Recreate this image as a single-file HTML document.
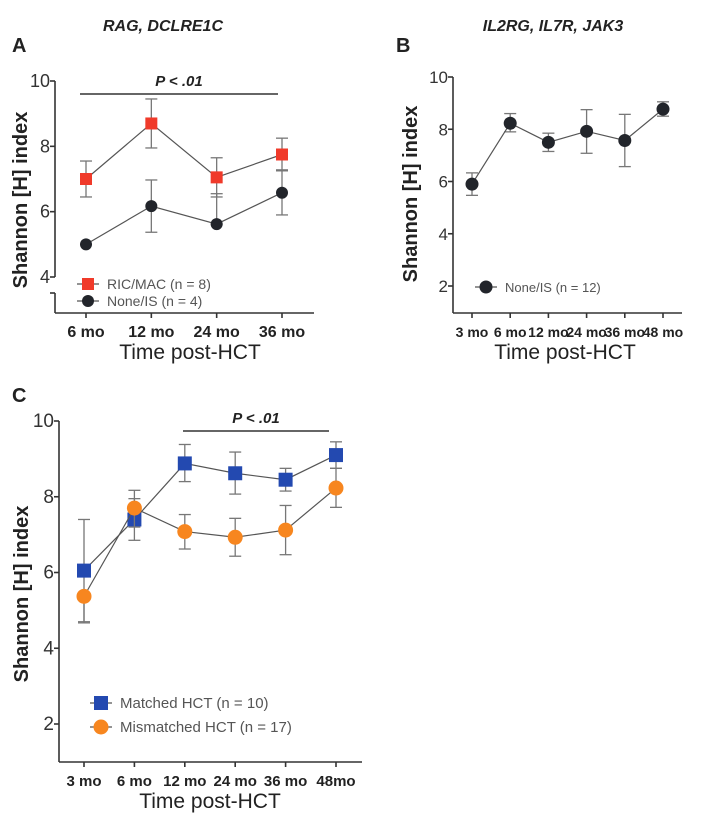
<!DOCTYPE html>
<html><head><meta charset="utf-8"><style>
body{margin:0;background:#fff;width:714px;height:820px;overflow:hidden}
svg{font-family:"Liberation Sans","DejaVu Sans",sans-serif}
</style></head><body>
<svg id="chart" width="714" height="820">
<g>
<text x="163" y="31" text-anchor="middle" font-size="16" font-style="italic" font-weight="bold" fill="#222">RAG, DCLRE1C</text>
<text x="12" y="52" font-size="20" font-weight="bold" fill="#222">A</text>
</g>
<g>
<text x="553" y="31" text-anchor="middle" font-size="16" font-style="italic" font-weight="bold" fill="#222">IL2RG, IL7R, JAK3</text>
<text x="396" y="52" font-size="20" font-weight="bold" fill="#222">B</text>
</g>
<text x="12" y="402" font-size="20" font-weight="bold" fill="#222">C</text>
</svg>
<script>
// Panel A data
const aCats=["6 mo","12 mo","24 mo","36 mo"];
const aRed=[7.0,8.7,7.05,7.75];
const aRedLo=[6.45,7.95,6.45,7.25];
const aRedHi=[7.55,9.45,7.65,8.25];
const aBlk=[5.0,6.17,5.62,6.58];
const aBlkLo=[5.0,5.37,5.62,5.9];
const aBlkHi=[5.0,6.97,6.55,7.28];
const aTicks=[4,6,8,10];
// Panel B data
const bCats=["3 mo","6 mo","12 mo","24 mo","36 mo","48 mo"];
const bVals=[5.9,8.23,7.5,7.92,7.57,8.77];
const bLo=[5.47,7.9,7.15,7.08,6.57,8.5];
const bHi=[6.33,8.6,7.85,8.75,8.57,9.05];
const bTicks=[2,4,6,8,10];
// Panel C data
const cCats=["3 mo","6 mo","12 mo","24 mo","36 mo","48mo"];
const cBlue=[6.05,7.4,8.88,8.62,8.45,9.1];
const cBlueLo=[4.7,6.85,8.4,8.07,8.15,8.75];
const cBlueHi=[7.4,7.95,9.38,9.18,8.75,9.45];
const cOr=[5.37,7.7,7.08,6.93,7.12,8.23];
const cOrLo=[4.67,7.2,6.62,6.43,6.47,7.72];
const cOrHi=[5.37,8.17,7.53,7.43,7.77,8.75];
const cTicks=[2,4,6,8,10];

const NS="http://www.w3.org/2000/svg";
const svg=document.getElementById('chart');
function mk(tag,attrs,parent,txt){const e=document.createElementNS(NS,tag);for(const k in attrs)e.setAttribute(k,attrs[k]);if(txt!=null)e.textContent=txt;(parent||svg).appendChild(e);return e;}

function panel(p){
  const g=mk('g',{});
  
  
  const y=v=>p.y0+(v-p.v0)*(p.y1-p.y0)/(p.v1-p.v0);
  const x=i=>p.xs0+i*(p.xs1-p.xs0)/(p.cats.length-1);
  const C='#333';
  const ya=mk('line',{x1:p.ax,x2:p.ax,y1:y(p.v1),y2:p.yAxisEnd,stroke:C,'stroke-width':1.6},g);
  
  
  if(p.brk){const b=mk('line',{x1:p.ax,x2:p.ax,y1:p.brk,y2:p.xAxisY,stroke:C,'stroke-width':1.6},g);
    
    mk('line',{x1:p.ax-5,x2:p.ax,y1:p.brk,y2:p.brk,stroke:C,'stroke-width':1.6},g);}
  p.ticks.forEach(t=>{
    mk('line',{x1:p.ax-5,x2:p.ax,y1:y(t),y2:y(t),stroke:C,'stroke-width':1.6},g);
    const tl=mk('text',{x:p.ax-5,y:y(t)+6,'text-anchor':'end','font-size':p.yfs,fill:'#333'},g,String(t));
    
    
  });
  const xa=mk('line',{x1:p.ax,x2:p.xEnd,y1:p.xAxisY,y2:p.xAxisY,stroke:C,'stroke-width':1.6},g);
  
  
  p.cats.forEach((c,i)=>{
    mk('line',{x1:x(i),x2:x(i),y1:p.xAxisY,y2:p.xAxisY+5,stroke:C,'stroke-width':1.6},g);
    const tl=mk('text',{x:x(i)+(p.lblShift||0),y:p.xAxisY+24,'text-anchor':'middle','font-size':p.xfs,'font-weight':'bold',fill:'#222'},g,c);
    
    
  });
  const xt=mk('text',{x:p.xTitleX,y:p.xAxisY+46,'text-anchor':'middle','font-size':21,fill:'#222'},g,'Time post-HCT');
  
  
  const yt=mk('text',{x:0,y:0,'text-anchor':'middle','font-size':p.ytfs,'font-weight':'bold',fill:'#222',transform:`translate(${p.ytX},${p.ytY}) rotate(-90)`},g,'Shannon [H] index');
  
  
  if(p.pbar){
    const pl=mk('line',{x1:p.pbar[0],x2:p.pbar[1],y1:p.pbar[2],y2:p.pbar[2],stroke:C,'stroke-width':1.5},g);
    
    const pt=mk('text',{x:(p.pbar[0]+p.pbar[1])/2,y:p.pbar[2]-8,'text-anchor':'middle','font-size':15,'font-weight':'bold','font-style':'italic',fill:'#222'},g,'P < .01');
    
  }
  p.series.forEach((s,si)=>{
    const sg=mk('g',{},g);
    
    
    s.v.forEach((v,i)=>{
      const e1=mk('line',{x1:x(i),x2:x(i),y1:y(s.lo[i]),y2:y(s.hi[i]),stroke:'#777','stroke-width':1.3},sg);
      
      
      [s.lo[i],s.hi[i]].forEach(w=>mk('line',{x1:x(i)-6,x2:x(i)+6,y1:y(w),y2:y(w),stroke:'#777','stroke-width':1.3},sg));
    });
    const pts=s.v.map((v,i)=>x(i)+','+y(v)).join(' ');
    const ln=mk('polyline',{points:pts,fill:'none',stroke:'#555','stroke-width':1.2},sg);
    
    
    s.v.forEach((v,i)=>{
      let m;
      if(s.shape==='sq') m=mk('rect',{x:x(i)-s.r,y:y(v)-s.r,width:2*s.r,height:2*s.r,fill:s.color},sg);
      else m=mk('circle',{cx:x(i),cy:y(v),r:s.r,fill:s.color},sg);
      
      
    });
    const lg=mk('g',{},g);
    
    
    const lx=s.leg[0],ly=s.leg[1];
    mk('line',{x1:lx-11,x2:lx+11,y1:ly,y2:ly,stroke:'#555','stroke-width':1.2},lg);
    if(s.shape==='sq') mk('rect',{x:lx-s.r,y:ly-s.r,width:2*s.r,height:2*s.r,fill:s.color},lg);
    else mk('circle',{cx:lx,cy:ly,r:s.r,fill:s.color},lg);
    mk('text',{x:lx+19,y:ly+5,'font-size':s.lfs,fill:'#555'},lg,s.label);
  });
}

panel({name:'panel-a-chart',cats:aCats,ticks:aTicks,v0:4,v1:10,y0:277,y1:81,ax:55,yAxisEnd:277,brk:293,xAxisY:313,xEnd:314,
  xs0:86,xs1:282,xfs:16,yfs:18,ytfs:20,xTitleX:190,ytX:27,ytY:200,pbar:[80,278,94],
  series:[
   {key:'ric-mac',v:aRed,lo:aRedLo,hi:aRedHi,shape:'sq',r:6,color:'#f03a2a',leg:[88,284],label:'RIC/MAC (n = 8)',lfs:14},
   {key:'none-is',v:aBlk,lo:aBlkLo,hi:aBlkHi,shape:'c',r:6,color:'#22252b',leg:[88,301],label:'None/IS (n = 4)',lfs:14}]});

panel({name:'panel-b-chart',cats:bCats,ticks:bTicks,v0:2,v1:10,y0:286,y1:77,ax:453,yAxisEnd:313,xAxisY:313,xEnd:682,
  xs0:472,xs1:663,xfs:14,yfs:17,ytfs:20,xTitleX:565,ytX:417,ytY:194,
  series:[{key:'none-is',v:bVals,lo:bLo,hi:bHi,shape:'c',r:6.5,color:'#22252b',leg:[486,287],label:'None/IS (n = 12)',lfs:13}]});

panel({name:'panel-c-chart',cats:cCats,ticks:cTicks,v0:2,v1:10,y0:724,y1:421,ax:59,yAxisEnd:762,xAxisY:762,xEnd:362,
  xs0:84,xs1:336,xfs:15,yfs:19,ytfs:20,xTitleX:210,ytX:28,ytY:594,pbar:[183,329,431],
  series:[
   {key:'matched',v:cBlue,lo:cBlueLo,hi:cBlueHi,shape:'sq',r:7,color:'#2349b0',leg:[101,703],label:'Matched HCT (n = 10)',lfs:15},
   {key:'mismatched',v:cOr,lo:cOrLo,hi:cOrHi,shape:'c',r:7.5,color:'#f7861f',leg:[101,727],label:'Mismatched HCT (n = 17)',lfs:15}]});
</script>
</body></html>
